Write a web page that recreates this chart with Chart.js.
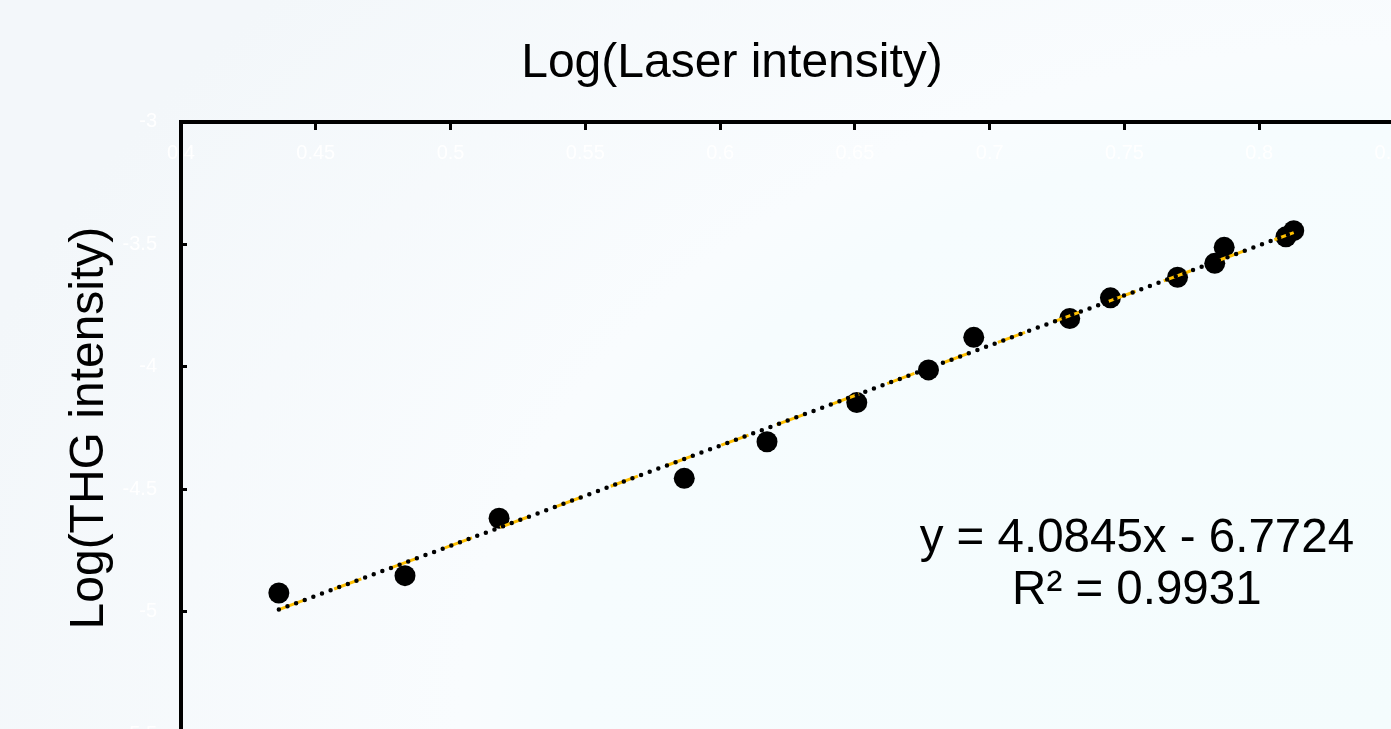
<!DOCTYPE html>
<html>
<head>
<meta charset="utf-8">
<title>Log(THG intensity) vs Log(Laser intensity)</title>
<script src="https://cdn.jsdelivr.net/npm/chart.js@4/dist/chart.umd.min.js"></script>
<style>
  html, body {
    margin: 0;
    padding: 0;
    width: 1391px;
    height: 729px;
    overflow: hidden;
    background: radial-gradient(ellipse 1500px 1100px at 1391px 729px, #f4fcfd 0%, #f6fcfe 55%, #f9fcfe 62%, #f3f7fa 100%);
  }
  canvas { display: block; }
</style>
</head>
<body>
<canvas id="chart" width="1420" height="760"></canvas>
<script>
// Measured points: log10 of laser intensity vs log10 of third-harmonic signal
const laserLog = [0.4363, 0.4831, 0.5180, 0.5867, 0.6174, 0.6507, 0.6773, 0.6941,
                  0.7297, 0.7448, 0.7697, 0.7835, 0.7870, 0.8099, 0.8128];
const thgLog   = [-4.923, -4.852, -4.618, -4.455, -4.306, -4.146, -4.013, -3.880,
                  -3.803, -3.719, -3.635, -3.578, -3.513, -3.470, -3.445];

// Linear least-squares fit reported on the plot
const fitSlope = 4.0845;
const fitIntercept = -6.7724;
const fitR2 = 0.9931;
const fitLabel = ['y = 4.0845x - 6.7724', 'R\u00b2 = 0.9931'];
const fitLabelAt = [0.7546, -4.81];

// Axis ranges and tick steps
const xRange = [0.4, 0.85];
const xStep = 0.05;
const yRange = [-5.5, -3];
const yStep = 0.5;

const xMin = Math.min(...laserLog);
const xMax = Math.max(...laserLog);
const fitLine = [
  { x: xMin, y: fitSlope * xMin + fitIntercept },
  { x: xMax, y: fitSlope * xMax + fitIntercept }
];

const FONT = '"Liberation Sans", Arial, sans-serif';
const shortNumber = v => String(+Number(v).toFixed(2));

// Writes the fit equation centred on a point given in data units
const fitLabelPlugin = {
  id: 'fitLabel',
  afterDatasetsDraw(chart) {
    const { ctx, scales } = chart;
    const cx = scales.x.getPixelForValue(fitLabelAt[0]);
    const cy = scales.y.getPixelForValue(fitLabelAt[1]);
    const gap = 52;
    ctx.save();
    ctx.font = '47.5px ' + FONT;
    ctx.fillStyle = '#000';
    ctx.textAlign = 'center';
    ctx.textBaseline = 'middle';
    fitLabel.forEach((line, i) => {
      ctx.fillText(line, cx, cy + (i - (fitLabel.length - 1) / 2) * gap);
    });
    ctx.restore();
  }
};

new Chart(document.getElementById('chart'), {
  type: 'scatter',
  data: {
    datasets: [
      {
        label: 'Linear fit',
        type: 'line',
        data: fitLine,
        borderColor: '#000000',
        borderWidth: 4.5,
        borderDash: [0, 9.2],
        borderCapStyle: 'round',
        pointRadius: 0,
        fill: false,
        order: 0
      },
      {
        label: 'Linear fit (highlight)',
        type: 'line',
        data: fitLine,
        borderColor: '#ffc000',
        borderWidth: 3,
        borderDash: [29, 30],
        borderCapStyle: 'butt',
        pointRadius: 0,
        fill: false,
        order: 1
      },
      {
        label: 'THG',
        data: laserLog.map((x, i) => ({ x, y: thgLog[i] })),
        backgroundColor: '#000000',
        borderWidth: 0,
        pointRadius: 10.5,
        pointHoverRadius: 10.5,
        order: 2
      }
    ]
  },
  options: {
    responsive: false,
    animation: false,
    events: [],
    layout: { padding: { left: 70, right: 26, top: 0, bottom: 25.5 } },
    plugins: {
      legend: { display: false },
      tooltip: { enabled: false },
      title: {
        display: true,
        text: 'Log(Laser intensity)',
        color: '#000',
        font: { family: FONT, size: 48, weight: 'normal', lineHeight: 1.2 },
        padding: { top: 35, bottom: 29 }
      }
    },
    scales: {
      x: {
        type: 'linear',
        position: { y: yRange[1] },
        min: xRange[0],
        max: xRange[1],
        ticks: {
          stepSize: xStep,
          color: '#ffffff',
          font: { family: FONT, size: 20 },
          padding: 14,
          maxRotation: 0,
          autoSkip: false,
          callback: shortNumber
        },
        grid: {
          display: true,
          drawOnChartArea: false,
          drawTicks: true,
          tickLength: 6,
          tickWidth: 3,
          tickColor: '#000'
        },
        border: { display: true, color: '#000', width: 4 },
        afterFit(scale) {
          scale.paddingLeft = 0;
          scale.paddingRight = 0;
        }
      },
      y: {
        type: 'linear',
        position: 'left',
        min: yRange[0],
        max: yRange[1],
        ticks: {
          stepSize: yStep,
          color: '#ffffff',
          font: { family: FONT, size: 20 },
          padding: 30,
          callback: shortNumber
        },
        grid: {
          display: true,
          drawOnChartArea: false,
          drawTicks: true,
          tickLength: -6,
          tickWidth: 3,
          tickColor: '#000'
        },
        border: { display: true, color: '#000', width: 4 },
        title: {
          display: true,
          text: 'Log(THG intensity)',
          color: '#000',
          font: { family: FONT, size: 48, weight: 'normal', lineHeight: 1 },
          padding: { top: -4, bottom: 0 }
        },
        afterFit(scale) {
          scale.width = 111;
          scale.paddingTop = 0;
          scale.paddingBottom = 0;
        }
      }
    }
  },
  plugins: [fitLabelPlugin]
});
</script>
</body>
</html>
